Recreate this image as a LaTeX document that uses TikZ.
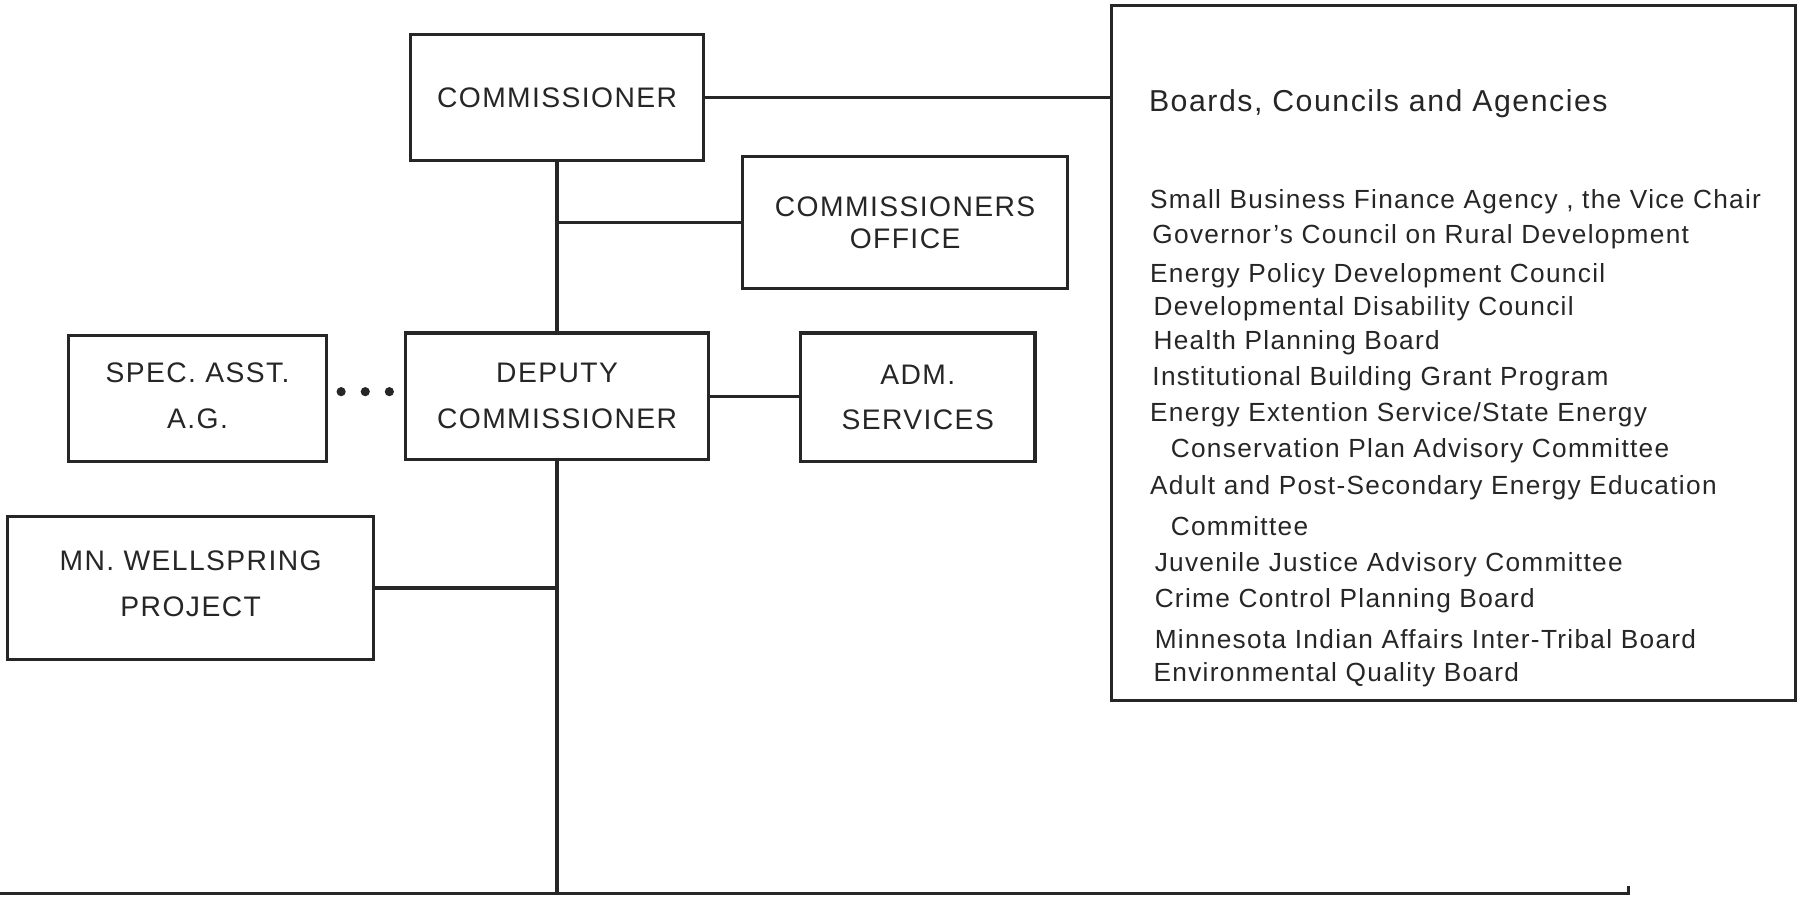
\documentclass[tikz,border=0pt]{standalone}
\usepackage{fontspec}
\setmainfont{Liberation Sans}[LetterSpace=5]
\usepackage{tikz}
\definecolor{ink}{gray}{0.15}

\begin{document}
\begin{tikzpicture}[x=0.2mm, y=-0.2mm,
  box/.style={draw=ink, line width=1.6pt, align=center, inner sep=0pt, text=ink,
    font=\fontsize{14}{22.7}\selectfont},
  link/.style={draw=ink, line width=1.6pt},
  item/.style={anchor=west, inner sep=0pt, text=ink, font=\fontsize{13}{15}\selectfont},
  bullet/.style={circle, fill=ink, inner sep=0pt, minimum size=1.6mm}]
\useasboundingbox (0,0) rectangle (1568,782);

% main boxes
\node[box, minimum width=51mm, minimum height=22mm] (comm) at (485,85) {COMMISSIONER};
\node[box, minimum width=56.6mm, minimum height=23mm,
  font=\fontsize{14}{15.5}\selectfont] (office) at (788,194) {COMMISSIONERS\\OFFICE};
\node[box, minimum width=52.8mm, minimum height=22mm] (dep) at (485,345) {DEPUTY\\COMMISSIONER};
\node[box, minimum width=45mm, minimum height=22mm] (spec) at (172,347) {\raisebox{1mm}{SPEC. ASST.}\\\raisebox{1mm}{A.G.}};
\node[box, minimum width=40.8mm, minimum height=22.4mm] (adm) at (799,346) {ADM.\\SERVICES};
\node[box, minimum width=63.8mm, minimum height=25mm] (mn) at (166,512) {\raisebox{1.6mm}{MN. WELLSPRING}\\\raisebox{1.6mm}{PROJECT}};

% boards, councils and agencies
\node[draw=ink, line width=1.5pt, minimum width=119mm, minimum height=121mm, inner sep=0pt]
  (boards) at (1265.5,307.5) {};
\node[anchor=west, inner sep=0pt, text=ink, font=\fontsize{15}{18}\selectfont]
  (bca) at (1000,90) {Boards, Councils and Agencies};
\foreach \yy/\xx/\txt [count=\i] in {
  176/1001/{Small Business Finance Agency , the Vice Chair},
  206/1003/{Governor’s Council on Rural Development},
  240/1001/{Energy Policy Development Council},
  269/1004/{Developmental Disability Council},
  298/1004/{Health Planning Board},
  330/1003/{Institutional Building Grant Program},
  361/1001/{Energy Extention Service/State Energy},
  392/1019/{Conservation Plan Advisory Committee},
  425/1001/{Adult and Post-Secondary Energy Education},
  458/1019/{Committee},
  492/1005/{Juvenile Justice Advisory Committee},
  523/1005/{Crime Control Planning Board},
  556/1005/{Minnesota Indian Affairs Inter-Tribal Board},
  587/1004/{Environmental Quality Board}}
  \node[item] (item\i) at (\xx,\yy) {\txt};

% dots
\foreach \x [count=\i] in {297,318,339}
  \node[bullet] (dot\i) at (\x,341) {};

% connectors
\coordinate (baseL) at (0,778);
\coordinate (baseR) at (1418,778);
\draw[link] (comm.east) -- (comm.east -| boards.west);
\draw[link] (comm.south) -- (dep.north);
\draw[link] (office.west) -- (office.west -| comm.south);
\draw[link] (dep.east) -- (dep.east -| adm.west);
\draw[link] (mn.east) -- (mn.east -| dep.south);
\draw[link] (dep.south) -- (dep.south |- baseL);
\draw[link] (baseL) -- (baseR) -- ++(0,-7);
\end{tikzpicture}
\end{document}
